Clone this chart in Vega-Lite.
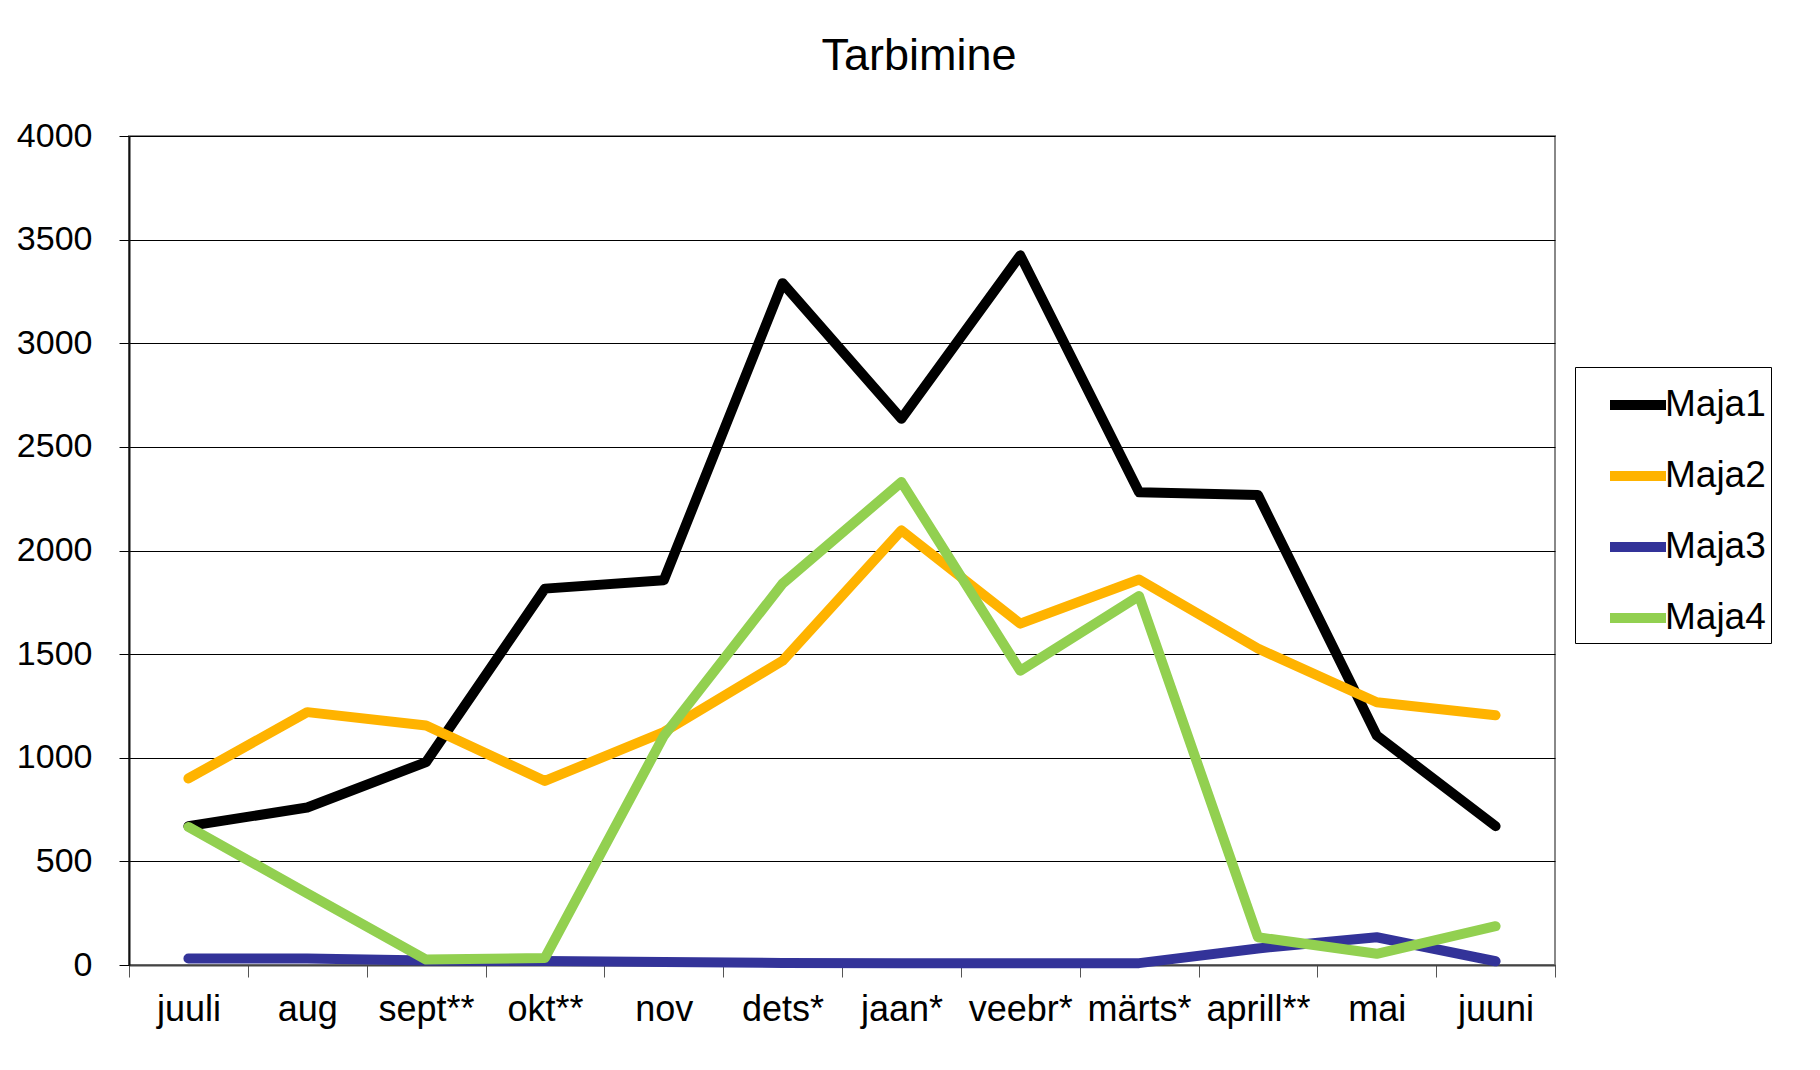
{
  "$schema": "https://vega.github.io/schema/vega-lite/v6.json",
  "width": 1426,
  "height": 829,
  "autosize": {"type": "none"},
  "padding": {"left": 129, "top": 136, "right": 265, "bottom": 105},
  "background": "white",
  "config": {
    "view": {"stroke": "#888888", "strokeWidth": 2},
    "font": "Liberation Sans"
  },
  "title": {
    "text": "Tarbimine",
    "fontSize": 45,
    "font": "Liberation Sans",
    "fontWeight": "normal",
    "color": "#000000",
    "anchor": "middle",
    "dx": 77,
    "offset": 40
  },
  "data": {
    "values": [
      {"kuu": "juuli", "maja": "Maja1", "v": 670},
      {"kuu": "aug", "maja": "Maja1", "v": 760},
      {"kuu": "sept**", "maja": "Maja1", "v": 979},
      {"kuu": "okt**", "maja": "Maja1", "v": 1816},
      {"kuu": "nov", "maja": "Maja1", "v": 1856},
      {"kuu": "dets*", "maja": "Maja1", "v": 3290},
      {"kuu": "jaan*", "maja": "Maja1", "v": 2636},
      {"kuu": "veebr*", "maja": "Maja1", "v": 3424},
      {"kuu": "märts*", "maja": "Maja1", "v": 2281},
      {"kuu": "aprill**", "maja": "Maja1", "v": 2268},
      {"kuu": "mai", "maja": "Maja1", "v": 1107},
      {"kuu": "juuni", "maja": "Maja1", "v": 670},
      {"kuu": "juuli", "maja": "Maja2", "v": 900},
      {"kuu": "aug", "maja": "Maja2", "v": 1220},
      {"kuu": "sept**", "maja": "Maja2", "v": 1156},
      {"kuu": "okt**", "maja": "Maja2", "v": 888},
      {"kuu": "nov", "maja": "Maja2", "v": 1124},
      {"kuu": "dets*", "maja": "Maja2", "v": 1468},
      {"kuu": "jaan*", "maja": "Maja2", "v": 2097},
      {"kuu": "veebr*", "maja": "Maja2", "v": 1647},
      {"kuu": "märts*", "maja": "Maja2", "v": 1860},
      {"kuu": "aprill**", "maja": "Maja2", "v": 1527},
      {"kuu": "mai", "maja": "Maja2", "v": 1268},
      {"kuu": "juuni", "maja": "Maja2", "v": 1205},
      {"kuu": "juuli", "maja": "Maja3", "v": 31},
      {"kuu": "aug", "maja": "Maja3", "v": 31},
      {"kuu": "sept**", "maja": "Maja3", "v": 22},
      {"kuu": "okt**", "maja": "Maja3", "v": 19},
      {"kuu": "nov", "maja": "Maja3", "v": 14},
      {"kuu": "dets*", "maja": "Maja3", "v": 10},
      {"kuu": "jaan*", "maja": "Maja3", "v": 9},
      {"kuu": "veebr*", "maja": "Maja3", "v": 9},
      {"kuu": "märts*", "maja": "Maja3", "v": 9},
      {"kuu": "aprill**", "maja": "Maja3", "v": 80},
      {"kuu": "mai", "maja": "Maja3", "v": 134},
      {"kuu": "juuni", "maja": "Maja3", "v": 18},
      {"kuu": "juuli", "maja": "Maja4", "v": 666},
      {"kuu": "aug", "maja": "Maja4", "v": 346},
      {"kuu": "sept**", "maja": "Maja4", "v": 26},
      {"kuu": "okt**", "maja": "Maja4", "v": 34},
      {"kuu": "nov", "maja": "Maja4", "v": 1105},
      {"kuu": "dets*", "maja": "Maja4", "v": 1840},
      {"kuu": "jaan*", "maja": "Maja4", "v": 2330},
      {"kuu": "veebr*", "maja": "Maja4", "v": 1420},
      {"kuu": "märts*", "maja": "Maja4", "v": 1780},
      {"kuu": "aprill**", "maja": "Maja4", "v": 134},
      {"kuu": "mai", "maja": "Maja4", "v": 54},
      {"kuu": "juuni", "maja": "Maja4", "v": 187}
    ]
  },
  "mark": {"type": "line", "strokeWidth": 10, "strokeCap": "round", "strokeJoin": "round"},
  "encoding": {
    "x": {
      "field": "kuu",
      "type": "ordinal",
      "sort": ["juuli", "aug", "sept**", "okt**", "nov", "dets*", "jaan*", "veebr*", "märts*", "aprill**", "mai", "juuni"],
      "scale": {"type": "band", "paddingInner": 0, "paddingOuter": 0},
      "bandPosition": 0.5,
      "axis": {
        "title": null,
        "tickBand": "extent",
        "labelAngle": 0,
        "labelFontSize": 36,
        "labelFont": "Liberation Sans",
        "labelColor": "#000000",
        "labelPadding": 15,
        "tickSize": 12,
        "tickColor": "#555555",
        "tickWidth": 1,
        "domainColor": "#444444",
        "domainWidth": 2,
        "grid": false
      }
    },
    "y": {
      "field": "v",
      "type": "quantitative",
      "scale": {"domain": [0, 4000], "nice": false, "zero": true},
      "axis": {
        "title": null,
        "format": "d",
        "values": [0, 500, 1000, 1500, 2000, 2500, 3000, 3500, 4000],
        "grid": true,
        "gridColor": "#000000",
        "gridWidth": 1,
        "tickSize": 10,
        "tickColor": "#000000",
        "domainColor": "#111111",
        "domainWidth": 2,
        "labelFontSize": 34,
        "labelFont": "Liberation Sans",
        "labelColor": "#000000",
        "labelPadding": 27
      }
    },
    "color": {
      "field": "maja",
      "type": "nominal",
      "scale": {
        "domain": ["Maja1", "Maja2", "Maja3", "Maja4"],
        "range": ["#000000", "#FFB300", "#333399", "#92D050"]
      },
      "legend": {
        "orient": "none",
        "legendX": 1446,
        "legendY": 231,
        "title": null,
        "strokeColor": "#000000",
        "fillColor": "#ffffff",
        "padding": 5,
        "symbolOffset": 25,
        "symbolType": "stroke",
        "symbolSize": 3136,
        "symbolStrokeWidth": 10,
        "labelFontSize": 37,
        "labelFont": "Liberation Sans",
        "labelColor": "#000000",
        "labelOffset": -6,
        "rowPadding": 18
      }
    }
  }
}
